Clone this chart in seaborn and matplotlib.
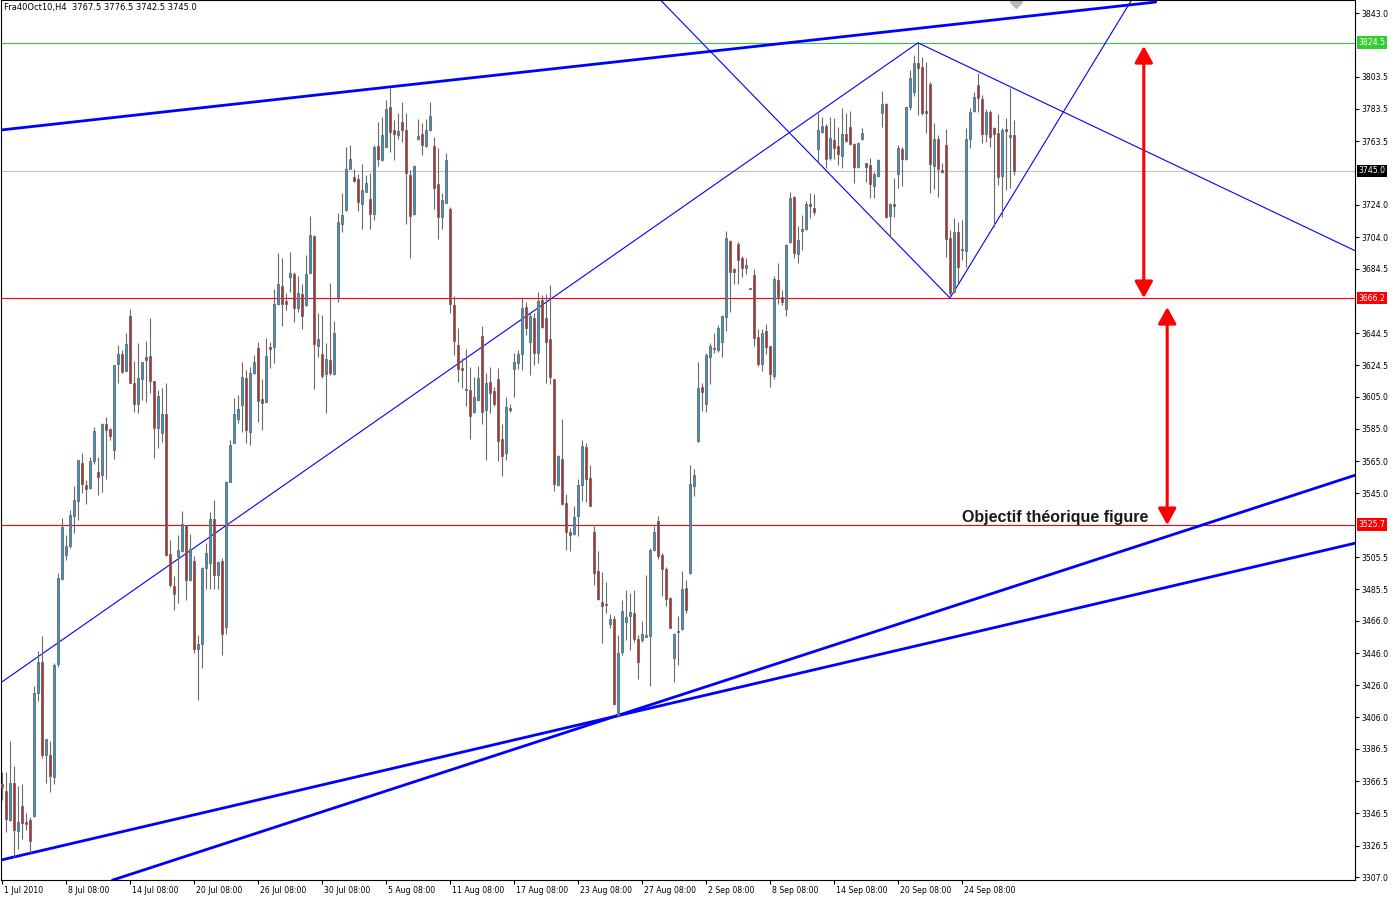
"""
Fra40Oct10 H4 chart: candlesticks, trend lines, diamond pattern and target.
Writes out.png (1395x897).
"""

import matplotlib

matplotlib.use("Agg")

import matplotlib.pyplot as plt
import numpy as np
import seaborn as sns
from matplotlib.transforms import ScaledTranslation, blended_transform_factory

# ---- candles (one per H4 bar, from 1 Jul 2010) ----
OPENS = [
    3364.7, 3360.6, 3342.6, 3365.5, 3335.3, 3351.3, 3341.2, 3342.6, 3345.1, 3420.9,
    3440.6, 3382.7, 3382.9, 3368.8, 3439.1, 3491.8, 3506.5, 3512.1, 3531.3, 3540.0,
    3563.8, 3550.1, 3548.6, 3565.4, 3558.2, 3556.7, 3588.1, 3584.8, 3572.2, 3625.1,
    3631.5, 3621.2, 3655.1, 3613.4, 3600.7, 3616.0, 3629.7, 3630.3, 3614.8, 3585.8,
    3582.7, 3594.1, 3507.5, 3487.7, 3505.9, 3509.0, 3525.3, 3491.0, 3502.8, 3448.6,
    3451.6, 3498.7, 3502.1, 3529.2, 3494.3, 3502.8, 3462.4, 3552.3, 3576.5, 3591.0,
    3600.0, 3616.6, 3583.2, 3619.9, 3635.2, 3603.4, 3601.9, 3635.9, 3636.1, 3662.5,
    3673.7, 3664.6, 3679.5, 3680.9, 3659.9, 3668.5, 3661.9, 3681.5, 3704.9, 3636.7,
    3631.3, 3618.9, 3627.8, 3619.1, 3667.0, 3712.3, 3721.0, 3746.4, 3741.4, 3739.8,
    3724.7, 3732.1, 3727.6, 3718.5, 3760.5, 3751.8, 3760.0, 3784.5, 3770.4, 3767.5,
    3775.2, 3770.4, 3742.5, 3718.1, 3765.0, 3767.7, 3760.5, 3770.4, 3760.5, 3736.8,
    3716.3, 3725.4, 3721.5, 3661.9, 3637.1, 3622.7, 3609.8, 3609.2, 3595.4, 3603.0,
    3642.7, 3596.8, 3614.0, 3608.6, 3616.0, 3578.7, 3570.0, 3597.9, 3622.1, 3626.2,
    3631.3, 3660.5, 3639.2, 3653.7, 3631.9, 3665.0, 3653.7, 3640.6, 3616.0, 3550.5,
    3566.4, 3539.0, 3521.0, 3519.9, 3530.7, 3550.5, 3574.1, 3554.5, 3521.0, 3497.0,
    3477.6, 3476.6, 3464.2, 3467.1, 3407.8, 3446.4, 3465.2, 3468.7, 3470.6, 3454.5,
    3453.9, 3456.0, 3456.5, 3509.6, 3528.0, 3507.0, 3498.2, 3480.0, 3443.1, 3459.2,
    3460.6, 3486.3, 3495.5, 3549.9, 3577.8, 3611.3, 3600.4, 3629.9, 3635.1, 3634.0,
    3639.2, 3654.7, 3701.6, 3684.5, 3699.6, 3690.9, 3684.7, 3672.0, 3680.6, 3641.8,
    3625.1, 3645.8, 3636.5, 3618.1, 3677.5, 3667.1, 3659.3, 3700.8, 3729.0, 3693.5,
    3708.0, 3708.8, 3724.5, 3721.9, 3758.5, 3769.4, 3772.9, 3752.9, 3764.2, 3760.5,
    3754.5, 3767.8, 3772.5, 3761.8, 3747.3, 3764.7, 3749.8, 3748.7, 3735.9, 3742.1,
    3781.2, 3786.6, 3717.3, 3724.5, 3743.0, 3758.7, 3752.2, 3784.5, 3793.8, 3812.2,
    3809.3, 3782.2, 3798.8, 3748.3, 3764.8, 3745.7, 3761.1, 3703.6, 3669.8, 3707.3,
    3696.6, 3695.5, 3764.8, 3782.4, 3798.4, 3789.7, 3767.7, 3781.8, 3771.9, 3768.4,
    3741.9, 3771.1, 3767.3, 3767.5,
]
HIGHS = [
    3372.2, 3372.2, 3391.6, 3376.1, 3363.3, 3364.9, 3346.8, 3344.3, 3425.7, 3447.0,
    3456.3, 3392.6, 3391.4, 3440.1, 3495.9, 3529.7, 3519.3, 3534.8, 3549.7, 3565.8,
    3570.0, 3553.4, 3567.8, 3586.4, 3567.8, 3588.6, 3592.6, 3585.8, 3624.7, 3637.1,
    3634.0, 3644.4, 3659.4, 3627.2, 3638.5, 3626.7, 3639.8, 3653.8, 3615.0, 3609.2,
    3610.6, 3613.4, 3516.2, 3493.9, 3519.5, 3534.2, 3525.3, 3519.7, 3505.9, 3457.3,
    3499.1, 3514.2, 3533.4, 3541.0, 3502.8, 3505.2, 3552.8, 3578.2, 3604.0, 3606.0,
    3626.6, 3621.6, 3623.5, 3630.7, 3638.8, 3616.0, 3641.3, 3639.1, 3671.8, 3694.2,
    3690.9, 3669.2, 3694.8, 3682.5, 3679.9, 3674.7, 3692.9, 3717.3, 3705.3, 3656.8,
    3655.7, 3638.2, 3675.4, 3652.2, 3718.8, 3731.2, 3760.0, 3761.1, 3746.2, 3742.9,
    3749.5, 3742.7, 3743.9, 3760.9, 3775.2, 3778.6, 3789.0, 3796.3, 3776.6, 3780.8,
    3788.0, 3780.8, 3745.6, 3748.7, 3777.0, 3774.9, 3777.0, 3788.0, 3766.3, 3759.1,
    3731.2, 3756.4, 3722.9, 3667.5, 3647.5, 3628.9, 3634.4, 3623.5, 3617.5, 3624.1,
    3648.9, 3619.6, 3623.3, 3611.3, 3622.8, 3588.1, 3604.7, 3600.5, 3632.0, 3634.2,
    3667.0, 3663.6, 3657.8, 3656.8, 3669.8, 3668.1, 3668.7, 3674.3, 3616.0, 3568.9,
    3591.2, 3544.7, 3523.5, 3536.9, 3553.9, 3578.2, 3576.2, 3562.7, 3524.5, 3509.0,
    3496.2, 3489.8, 3470.2, 3468.7, 3457.4, 3478.6, 3485.3, 3483.2, 3485.3, 3457.2,
    3466.0, 3494.3, 3511.0, 3525.0, 3530.7, 3508.0, 3499.6, 3481.0, 3458.2, 3469.0,
    3496.8, 3491.4, 3562.8, 3560.2, 3626.8, 3613.4, 3632.0, 3638.2, 3644.4, 3649.6,
    3655.7, 3707.8, 3702.3, 3685.1, 3701.0, 3692.3, 3691.3, 3672.5, 3684.3, 3647.0,
    3647.0, 3650.1, 3636.5, 3680.1, 3688.2, 3671.2, 3699.5, 3732.1, 3729.7, 3710.9,
    3717.7, 3726.6, 3731.5, 3730.7, 3781.1, 3778.3, 3774.1, 3778.6, 3778.0, 3772.5,
    3783.9, 3780.8, 3782.2, 3762.2, 3763.2, 3771.5, 3750.1, 3752.9, 3744.2, 3752.3,
    3794.6, 3787.0, 3725.0, 3740.5, 3761.1, 3760.0, 3784.9, 3807.6, 3817.0, 3824.5,
    3815.9, 3812.8, 3800.4, 3774.6, 3767.3, 3749.8, 3770.9, 3708.4, 3716.0, 3713.5,
    3714.6, 3771.5, 3783.9, 3794.2, 3805.6, 3792.1, 3783.3, 3782.8, 3772.5, 3780.2,
    3771.5, 3777.7, 3796.3, 3776.5,
]
LOWS = [
    3355.0, 3335.0, 3341.5, 3319.5, 3324.4, 3330.8, 3336.4, 3322.0, 3344.3, 3416.0,
    3380.6, 3365.1, 3359.5, 3364.7, 3437.6, 3491.4, 3503.8, 3511.2, 3520.7, 3528.6,
    3545.2, 3538.5, 3547.8, 3563.1, 3544.1, 3545.8, 3554.0, 3578.2, 3566.4, 3613.7,
    3619.6, 3621.2, 3613.4, 3595.8, 3595.1, 3603.0, 3601.9, 3607.2, 3567.2, 3573.0,
    3577.1, 3506.3, 3486.9, 3472.4, 3477.3, 3508.4, 3479.0, 3490.4, 3445.7, 3416.9,
    3436.5, 3486.0, 3486.0, 3486.0, 3486.0, 3444.5, 3457.7, 3552.3, 3576.2, 3588.6,
    3583.2, 3576.3, 3575.1, 3619.1, 3589.5, 3584.4, 3601.8, 3622.7, 3626.1, 3661.9,
    3649.1, 3658.8, 3670.0, 3651.5, 3657.8, 3646.8, 3661.3, 3681.1, 3609.6, 3629.8,
    3616.5, 3594.8, 3618.5, 3618.5, 3663.9, 3707.4, 3720.4, 3746.0, 3738.4, 3720.2,
    3708.8, 3731.8, 3708.8, 3714.6, 3748.1, 3751.4, 3759.7, 3757.0, 3751.8, 3764.6,
    3763.2, 3712.1, 3690.9, 3717.7, 3764.2, 3754.9, 3760.0, 3770.0, 3721.3, 3703.0,
    3709.1, 3725.0, 3656.8, 3630.9, 3614.4, 3610.3, 3599.3, 3578.9, 3594.8, 3602.6,
    3588.2, 3565.9, 3595.1, 3599.3, 3564.8, 3555.5, 3565.8, 3595.6, 3604.5, 3622.1,
    3621.6, 3643.3, 3618.5, 3624.7, 3626.1, 3647.3, 3613.4, 3613.0, 3546.5, 3549.3,
    3537.9, 3510.0, 3509.0, 3519.3, 3518.3, 3540.4, 3539.4, 3536.9, 3487.9, 3479.0,
    3452.2, 3470.8, 3461.5, 3413.9, 3406.5, 3444.9, 3454.3, 3448.0, 3453.0, 3429.6,
    3453.0, 3455.8, 3425.5, 3509.0, 3504.3, 3481.5, 3475.4, 3461.5, 3428.2, 3438.6,
    3460.2, 3470.8, 3495.1, 3543.5, 3577.2, 3596.4, 3595.4, 3613.0, 3632.0, 3633.0,
    3629.8, 3646.0, 3657.4, 3674.8, 3674.8, 3679.5, 3681.0, 3671.5, 3636.7, 3624.2,
    3621.2, 3631.6, 3611.3, 3615.9, 3662.4, 3661.9, 3655.1, 3700.2, 3691.2, 3688.1,
    3696.0, 3708.4, 3715.7, 3717.7, 3750.8, 3768.7, 3747.1, 3751.8, 3752.2, 3748.7,
    3746.7, 3763.2, 3761.1, 3737.4, 3746.7, 3764.2, 3738.4, 3728.1, 3728.4, 3741.5,
    3772.5, 3715.7, 3704.2, 3716.7, 3734.6, 3735.7, 3751.8, 3782.8, 3791.5, 3779.8,
    3779.8, 3768.4, 3731.2, 3733.7, 3729.0, 3743.6, 3691.5, 3666.2, 3669.1, 3675.3,
    3689.8, 3685.3, 3759.5, 3781.8, 3781.8, 3762.2, 3763.2, 3760.0, 3710.4, 3736.3,
    3716.7, 3733.3, 3734.3, 3742.5,
]
CLOSES = [
    3362.9, 3343.0, 3365.5, 3336.0, 3341.4, 3340.6, 3339.9, 3329.2, 3421.3, 3440.4,
    3382.7, 3392.6, 3369.5, 3438.7, 3492.5, 3524.4, 3512.1, 3531.7, 3541.0, 3565.6,
    3550.7, 3548.0, 3565.0, 3583.8, 3555.1, 3588.1, 3584.4, 3580.5, 3624.7, 3631.5,
    3620.5, 3637.7, 3613.4, 3600.7, 3616.5, 3626.4, 3627.8, 3615.0, 3585.8, 3605.5,
    3594.1, 3506.9, 3487.9, 3482.5, 3509.6, 3525.9, 3491.0, 3510.5, 3448.6, 3451.7,
    3498.5, 3508.3, 3529.2, 3494.1, 3502.4, 3457.7, 3552.3, 3575.1, 3594.3, 3597.3,
    3617.3, 3584.4, 3619.7, 3626.6, 3602.6, 3601.3, 3630.5, 3634.8, 3662.5, 3674.9,
    3662.3, 3662.3, 3681.7, 3660.2, 3669.2, 3654.9, 3681.1, 3705.3, 3637.5, 3640.8,
    3618.1, 3628.2, 3619.9, 3644.4, 3713.2, 3717.7, 3746.2, 3752.2, 3739.0, 3725.6,
    3733.2, 3737.5, 3718.5, 3760.0, 3752.2, 3767.3, 3783.4, 3769.4, 3767.7, 3770.0,
    3770.4, 3743.6, 3717.3, 3748.1, 3766.7, 3760.9, 3770.4, 3779.1, 3734.3, 3716.7,
    3727.0, 3751.8, 3662.5, 3639.8, 3622.1, 3621.6, 3609.2, 3593.3, 3604.5, 3616.9,
    3595.8, 3613.4, 3607.2, 3600.7, 3577.8, 3568.5, 3598.3, 3596.8, 3626.4, 3631.5,
    3660.0, 3647.5, 3655.1, 3632.3, 3664.4, 3648.5, 3639.2, 3617.4, 3551.0, 3567.9,
    3538.7, 3521.3, 3518.9, 3530.3, 3550.3, 3574.5, 3553.9, 3537.5, 3495.9, 3479.6,
    3474.9, 3475.5, 3467.1, 3414.4, 3446.0, 3472.2, 3468.3, 3471.4, 3454.5, 3440.2,
    3457.6, 3457.1, 3509.6, 3521.0, 3505.9, 3498.0, 3479.6, 3461.8, 3457.8, 3459.8,
    3485.6, 3472.4, 3550.8, 3556.3, 3610.3, 3607.8, 3631.0, 3636.5, 3634.5, 3647.5,
    3655.1, 3703.3, 3682.6, 3682.2, 3689.9, 3685.1, 3686.8, 3672.0, 3641.2, 3625.4,
    3644.5, 3635.7, 3619.0, 3678.1, 3667.1, 3664.0, 3699.1, 3728.2, 3694.0, 3702.2,
    3709.0, 3724.5, 3723.3, 3719.8, 3770.4, 3772.9, 3752.2, 3765.3, 3759.4, 3755.5,
    3767.8, 3763.8, 3761.8, 3747.3, 3762.6, 3768.4, 3747.7, 3736.8, 3743.2, 3751.9,
    3786.6, 3716.7, 3724.5, 3723.5, 3759.1, 3752.2, 3784.5, 3802.5, 3812.2, 3808.7,
    3781.2, 3780.8, 3749.2, 3764.8, 3746.1, 3744.2, 3702.6, 3669.1, 3707.3, 3685.3,
    3696.0, 3764.8, 3781.8, 3790.7, 3790.1, 3767.7, 3781.8, 3766.3, 3767.7, 3741.4,
    3770.4, 3770.0, 3766.3, 3745.0,
]

# ---- axis labels ----
PRICE_TICKS = [3843.0, 3803.5, 3783.5, 3763.5, 3724.0, 3704.0, 3684.5, 3644.5,
               3624.5, 3605.0, 3585.0, 3565.0, 3545.0, 3505.5, 3485.5, 3466.0,
               3446.0, 3426.0, 3406.0, 3386.5, 3366.5, 3346.5, 3326.5, 3307.0]
DATE_BARS = [0, 16, 32, 48, 64, 80, 96, 112, 128, 144, 160, 176, 192, 208, 224, 240]
DATE_LABELS = ["1 Jul 2010", "8 Jul 08:00", "14 Jul 08:00", "20 Jul 08:00",
               "26 Jul 08:00", "30 Jul 08:00", "5 Aug 08:00", "11 Aug 08:00",
               "17 Aug 08:00", "23 Aug 08:00", "27 Aug 08:00", "2 Sep 08:00",
               "8 Sep 08:00", "14 Sep 08:00", "20 Sep 08:00", "24 Sep 08:00"]

# ---- drawn objects: (bar index, price) anchors ----
THICK_LINES = [
    ([-0.4, 288.4], [3770.4, 3849.8]),   # upper channel
    ([-0.4, 338.4], [3317.5, 3514.2]),   # lower support A
    ([27.6, 338.4], [3305.1, 3556.4]),   # lower support B
]
THIN_LINES = [
    ([-0.4, 229.0], [3427.4, 3824.5]),   # rising line to diamond top
    ([164.6, 237.0], [3851.1, 3666.2]),  # diamond, left falling side
    ([237.0, 282.4], [3666.2, 3851.1]),  # diamond, right rising side
    ([229.0, 338.4], [3824.5, 3695.4]),  # diamond, right falling side
]
LEVELS = [3824.5, 3745.0, 3666.2, 3525.7]
LEVEL_COLORS = ["#32cd32", "#c0c0c0", "#ff0000", "#ff0000"]
LABEL_BG = ["#32cd32", "#000000", "#ff0000", "#ff0000"]
ARROWS = [(285.45, 3822.5, 3666.2), (291.3, 3660.6, 3525.4)]
TARGET_TEXT = "Objectif théorique figure"
HEADER = "Fra40Oct10,H4  3767.5 3776.5 3742.5 3745.0"

W, H = 1395, 897
DPI = 100

sns.set_style("white")
plt.rcParams["font.family"] = ["DejaVu Sans"]

fig = plt.figure(figsize=(W / DPI, H / DPI), dpi=DPI)
ax = fig.add_axes([0.5 / W, 17 / H, 1354 / W, 880 / H])
ax.set_xlim(-0.375, 338.125)
ax.set_ylim(3305.2, 3851.07)

o = np.array(OPENS)
h = np.array(HIGHS)
l = np.array(LOWS)
c = np.array(CLOSES)
idx = np.arange(len(o))
up = c >= o

# trend lines and levels under the candles
for yv, col in zip(LEVELS, LEVEL_COLORS):
    ax.axhline(yv, color=col, lw=0.8, zorder=1)
for xs, ys in THIN_LINES:
    sns.lineplot(x=xs, y=ys, ax=ax, color="#0000ff", lw=0.8, zorder=2)
for xs, ys in THICK_LINES:
    sns.lineplot(x=xs, y=ys, ax=ax, color="#0000ff", lw=2.0, zorder=2)

# candles: grey wick and outline, thin coloured core
ax.vlines(idx, l, h, color="#6a6a6a", lw=0.8, zorder=3)
body_lo = np.minimum(o, c)
body_h = np.maximum(np.abs(c - o), 0.6)
ax.bar(idx, body_h, bottom=body_lo, width=0.47,
       color=np.where(up, "#3399d6", "#d42020"),
       edgecolor="#6a6a6a", linewidth=0.62, zorder=4)

# small grey object at the top edge
ax.plot([253.4], [3850.0], marker="D", ms=6, color="#b8b8b8", zorder=2)

# target arrows
for xa, y0, y1 in ARROWS:
    ax.annotate("", xy=(xa, y0), xytext=(xa, y1),
                arrowprops=dict(arrowstyle="<|-|>,head_length=1.0,head_width=0.55",
                                mutation_scale=10, color="#ff0000", lw=2.2,
                                shrinkA=0, shrinkB=0), zorder=6)

ax.text(239.9, 3527.4, TARGET_TEXT, fontsize=11.5, fontweight="bold",
        family=["Liberation Sans", "DejaVu Sans"], color="#1a1a1a",
        ha="left", va="baseline", zorder=7)

# axes look
for sp in ax.spines.values():
    sp.set_color("black")
    sp.set_linewidth(0.8)
ax.yaxis.tick_right()
ax.set_yticks(PRICE_TICKS)
ax.set_yticklabels([f"{v:.1f}" for v in PRICE_TICKS])
ax.tick_params(axis="y", direction="out", length=3, width=0.8, pad=2,
               labelsize=5.6, colors="black", right=True, left=False)
ax.set_xticks(DATE_BARS)
ax.set_xticklabels(DATE_LABELS)
ax.tick_params(axis="x", direction="out", length=3, width=0.8, pad=1.5,
               labelsize=5.6, colors="black", bottom=True)
shift = ScaledTranslation(2 / DPI, 0, fig.dpi_scale_trans)
for lab in ax.get_xticklabels():
    lab.set_ha("left")
    lab.set_transform(lab.get_transform() + shift)

# coloured price labels on the right scale
trans = blended_transform_factory(ax.transAxes, ax.transData)
for yv, bg in zip(LEVELS, LABEL_BG):
    ax.text(1.0, yv, f"{yv:.1f}", transform=trans + ScaledTranslation(4 / DPI, 0, fig.dpi_scale_trans),
            fontsize=5.6, color="white", ha="left", va="center", clip_on=False,
            bbox=dict(boxstyle="square,pad=0.25", fc=bg, ec="none"), zorder=8)

fig.text(4 / W, 1 - 3 / H, HEADER, fontsize=6.0, color="black", ha="left", va="top")

fig.savefig("out.png", dpi=DPI)
plt.close(fig)
